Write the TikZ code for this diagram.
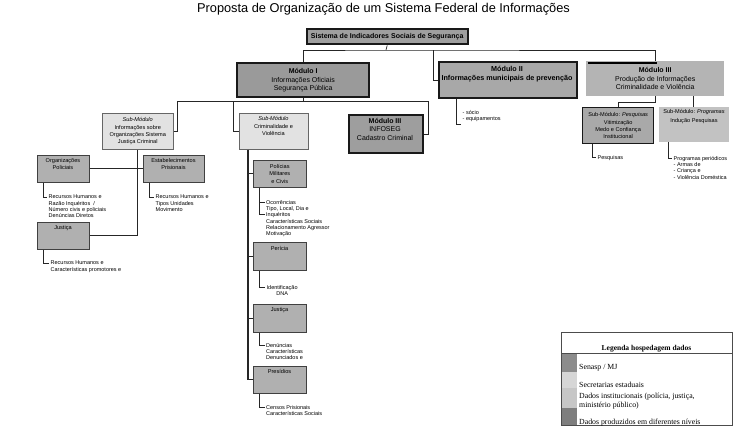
\documentclass[tikz,border=0pt]{standalone}
\usepackage{fontspec}
\setmainfont{Liberation Sans}
\newfontfamily\legfont{Liberation Serif}
\usetikzlibrary{shadows}
\newcommand\fsz[2]{\fontsize{#1}{#2}\selectfont}
\definecolor{gTop}{HTML}{9F9F9F}
\definecolor{gMa}{HTML}{9A9A9A}
\definecolor{gMb}{HTML}{A8A8A8}
\definecolor{gMc}{HTML}{B4B4B4}
\definecolor{gInf}{HTML}{9E9E9E}
\definecolor{gSub}{HTML}{E2E2E2}
\definecolor{gSm}{HTML}{B0B0B0}
\definecolor{gPesq}{HTML}{A9A9A9}
\definecolor{gProg}{HTML}{C2C2C2}
\definecolor{lgA}{HTML}{8C8C8C}
\definecolor{lgB}{HTML}{D6D6D6}
\definecolor{lgC}{HTML}{C6C6C6}
\definecolor{lgD}{HTML}{7E7E7E}
\begin{document}
\begin{tikzpicture}[x=1pt,y=-1pt,
  conn/.style={draw=black!85, line width=0.7pt},
  bx/.style={rectangle, anchor=north west, inner sep=0pt, align=center},
  thickbox/.style={bx, draw=black!90, line width=2.4pt},
  thinbox/.style={bx, draw=black!75, line width=0.6pt},
  subbox/.style={bx, draw=black!60, line width=0.5pt, fill=gSub,
     drop shadow={shadow xshift=1.2pt, shadow yshift=-1.2pt, fill=black!75, opacity=1}},
  smtxt/.style={inner sep=0pt, align=center, font=\fsz{5.6}{7.3}},
  lst/.style={anchor=north west, inner xsep=1.5pt, inner ysep=0pt, align=left, font=\fsz{5.5}{6.3}},
  mtxt/.style={font=\fsz{7}{8.4}},
  lt/.style={inner sep=0pt, font=\legfont\fsz{7.8}{8.2}}
]
\useasboundingbox (0,0) rectangle (750,445);

% title
\node[inner sep=0pt, anchor=base, font=\fsz{12.8}{14}] (title) at (383.5,12.5)
  {Proposta de Organização de um Sistema Federal de Informações};

% top box
\node[thickbox, fill=gTop, minimum width=161pt, minimum height=15pt,
      font=\bfseries\fsz{7}{8}] (top) at (305.5,28) {Sistema de Indicadores Sociais de Segurança};

% modules
\node[thickbox, fill=gMa, minimum width=132pt, minimum height=34pt, mtxt] (m1) at (236,62)
  {\textbf{Módulo I}\\Informações Oficiais\\Segurança Pública};
\node[thickbox, fill=gMb, minimum width=138pt, minimum height=36pt] (m2) at (438,61) {};
\node[inner sep=0pt, anchor=north, align=center, font=\bfseries\fsz{7.2}{9}] (m2t) at (507,66.5)
  {Módulo II\\Informações municipais de prevenção};
\node[bx, fill=gMc, minimum width=138pt, minimum height=35pt, mtxt] (m3) at (586,61)
  {\textbf{Módulo III}\\Produção de Informações\\Criminalidade e Violência};
\draw[line width=2pt, black] ([xshift=2pt,yshift=-1.5pt]m3.north west) -- ([xshift=71pt,yshift=-1.5pt]m3.north west);

% level 2 under module I
\node[subbox, minimum width=71pt, minimum height=36pt, smtxt] (sm1) at (102,113)
  {\textit{Sub-Módulo}\\Informações sobre\\Organizações Sistema\\Justiça Criminal};
\node[subbox, minimum width=69pt, minimum height=36pt] (sm2) at (239,113) {};
\node[smtxt, anchor=north] (sm2t) at (273.5,116.5) {\textit{Sub-Módulo}\\Criminalidade e\\Violência};
\node[thickbox, fill=gInf, minimum width=74pt, minimum height=38pt] (info) at (348,114) {};
\node[inner sep=0pt, anchor=north, align=center, font=\fsz{7}{8.5}] (infot) at (385,118)
  {\textbf{Módulo III}\\INFOSEG\\Cadastro Criminal};

% module III right children
\node[bx, draw=black!90, line width=1.3pt, fill=gPesq, minimum width=71pt, minimum height=36pt, smtxt] (pesq) at (582,107)
  {Sub-Módulo: \textit{Pesquisas}\\Vitimização\\Medo e Confiança\\Institucional};
\node[bx, fill=gProg, minimum width=70pt, minimum height=35pt] (prog) at (659,107) {};
\node[smtxt, anchor=north, font=\fsz{5.6}{8.8}] (progt) at (694,109.5) {Sub-Módulo: \textit{Programas}\\Indução Pesquisas};

% small boxes left
\node[thinbox, fill=gSm, minimum width=52pt, minimum height=27pt] (org) at (37,155) {};
\node[smtxt, anchor=north, font=\fsz{5.6}{7}] (orgt) at (63,158.5) {Organizações\\Policiais};
\node[thinbox, fill=gSm, minimum width=61pt, minimum height=27pt] (est) at (143,155) {};
\node[smtxt, anchor=north, font=\fsz{5.6}{7}] (estt) at (173.5,158.5) {Estabelecimentos\\Prisionais};
\node[thinbox, fill=gSm, minimum width=52pt, minimum height=27pt] (jusa) at (37,222) {};
\node[smtxt, anchor=north] (jusat) at (63,225) {Justiça};

% criminalidade column boxes
\node[thinbox, fill=gSm, minimum width=53pt, minimum height=27pt, smtxt, font=\fsz{5.6}{7.5}] (pol) at (253,160)
  {Polícias\\Militares\\e Civis};
\node[thinbox, fill=gSm, minimum width=53pt, minimum height=28pt] (per) at (253,242) {};
\node[smtxt, anchor=north] (pert) at (279.5,246.5) {Perícia};
\node[thinbox, fill=gSm, minimum width=53pt, minimum height=28pt] (jusb) at (253,304) {};
\node[smtxt, anchor=north] (jusbt) at (279.5,307.5) {Justiça};
\node[thinbox, fill=gSm, minimum width=53pt, minimum height=27pt] (pres) at (253,366) {};
\node[smtxt, anchor=north] (prest) at (279.5,369.5) {Presídios};

% text lists
\node[lst] (torg) at (47,195) {Recursos Humanos e\\Razão Inquéritos~~/\\Número civis e policiais\\Denúncias Diretos};
\node[lst] (test) at (154,195) {Recursos Humanos e\\Tipos Unidades\\Movimento};
\node[lst] (tjusa) at (49,261) {Recursos Humanos e\\Características promotores e};
\node[lst] (tpol) at (264.5,200) {Ocorrências\\Tipo, Local, Dia e\\Inquéritos\\Características Sociais\\Relacionamento Agressor\\Motivação};
\node[lst, align=center] (tper) at (265,285) {Identificação\\DNA};
\node[lst] (tjusb) at (264.5,343) {Denúncias\\Características\\Denunciados e};
\node[lst] (tpres) at (264.5,405) {Censos Prisionais\\Características Sociais};
\node[lst] (tpesq) at (596,155) {Pesquisas};
\node[lst] (tprog) at (672,156) {Programas periódicos\\- Armas de\\- Criança e\\- Violência Doméstica};
\node[lst] (tm2) at (461,110) {- sócio\\- equipamentos};

% connectors
\coordinate (hub) at (386,50);
\coordinate (hubb) at (433,50);
\coordinate (hubL) at (177,101);
\coordinate (hubM) at (233,101);
\coordinate (hubR) at (428,101);
\coordinate (m2end) at (461,124);
\draw[conn] (top.south) -- (hub);
\draw[conn] (m1.north) |- (hub) -| (m3.north);
\draw[conn] (hubb) |- (m2.west);
\draw[conn] (m1.south) -- (m1.south |- hubM);
\draw[conn] (sm1.east) -| (hubL) -- (hubR) |- (info.east);
\draw[conn] (hubM) |- (sm2.west);
\draw[conn] (sm1.south) |- (jusa.east);
\draw[conn] (org.east) -- (est.west);
\draw[conn] ([xshift=6pt]org.south west) |- ([yshift=-2pt]torg.north west);
\draw[conn] ([xshift=6pt]est.south west) |- ([yshift=-2pt]test.north west);
\draw[conn] ([xshift=6pt]jusa.south west) |- ([yshift=-2pt]tjusa.north west);
\coordinate (sp) at ([xshift=9pt]sm2.south west);
\draw[conn, line width=1.1pt] (sp) |- (pres.west);
\draw[conn] (pol.west) -- (pol.west -| sp);
\draw[conn] (per.west) -- (per.west -| sp);
\draw[conn] (jusb.west) -- (jusb.west -| sp);
\draw[conn] ([xshift=6pt]pol.south west) |- ([yshift=-2pt]tpol.north west);
\draw[conn] ([xshift=6pt]pol.south west) |- ([yshift=-14.6pt]tpol.north west);
\draw[conn] ([xshift=6pt]per.south west) |- ([yshift=-2pt]tper.north west);
\draw[conn] ([xshift=6pt]jusb.south west) |- ([yshift=-2pt]tjusb.north west);
\draw[conn] ([xshift=6pt]pres.south west) |- ([yshift=-2pt]tpres.north west);
\draw[conn] ([xshift=18pt]m2.south west) |- (m2end);
\draw[conn] (m3.south) -- ([yshift=-6pt]m3.south) -| (pesq.north);
\draw[conn] ([xshift=-31pt]m3.south east) -- ([xshift=-31pt]m3.south east |- prog.north);
\draw[conn] ([xshift=10pt]pesq.south west) |- ([yshift=-2pt]tpesq.north west);
\draw[conn] ([xshift=9pt]prog.south west) |- ([yshift=-2pt]tprog.north west);

% legend
\node[bx, minimum width=171pt, minimum height=93pt] (leg) at (561,332) {};
\node[bx, fill=lgA, minimum width=16pt, minimum height=19pt] (swa) at (561,353) {};
\node[bx, fill=lgB, minimum width=16pt, minimum height=16pt] (swb) at (561,372) {};
\node[bx, fill=lgC, minimum width=16pt, minimum height=20pt] (swc) at (561,388) {};
\node[bx, fill=lgD, minimum width=16pt, minimum height=17pt] (swd) at (561,408) {};
\draw[black!70, line width=0.8pt] (leg.north west) rectangle (leg.south east);
\draw[black!70, line width=1pt] ([yshift=-21pt]leg.north west) -- ([yshift=-21pt]leg.north east);
\node[inner sep=0pt, anchor=base, font=\legfont\bfseries\fsz{7.5}{9}] (legh) at (646.5,350.5) {Legenda hospedagem dados};
\node[lt, anchor=base west] (la) at (579,369.5) {Senasp / MJ};
\node[lt, anchor=base west] (lb) at (579,387.5) {Secretarias estaduais};
\node[lt, anchor=north west, align=left] (lc) at (579,393.2) {Dados institucionais (polícia, justiça,\\ministério público)};
\node[lt, anchor=base west] (ld) at (579,424.3) {Dados produzidos em diferentes níveis};
\end{tikzpicture}
\end{document}
